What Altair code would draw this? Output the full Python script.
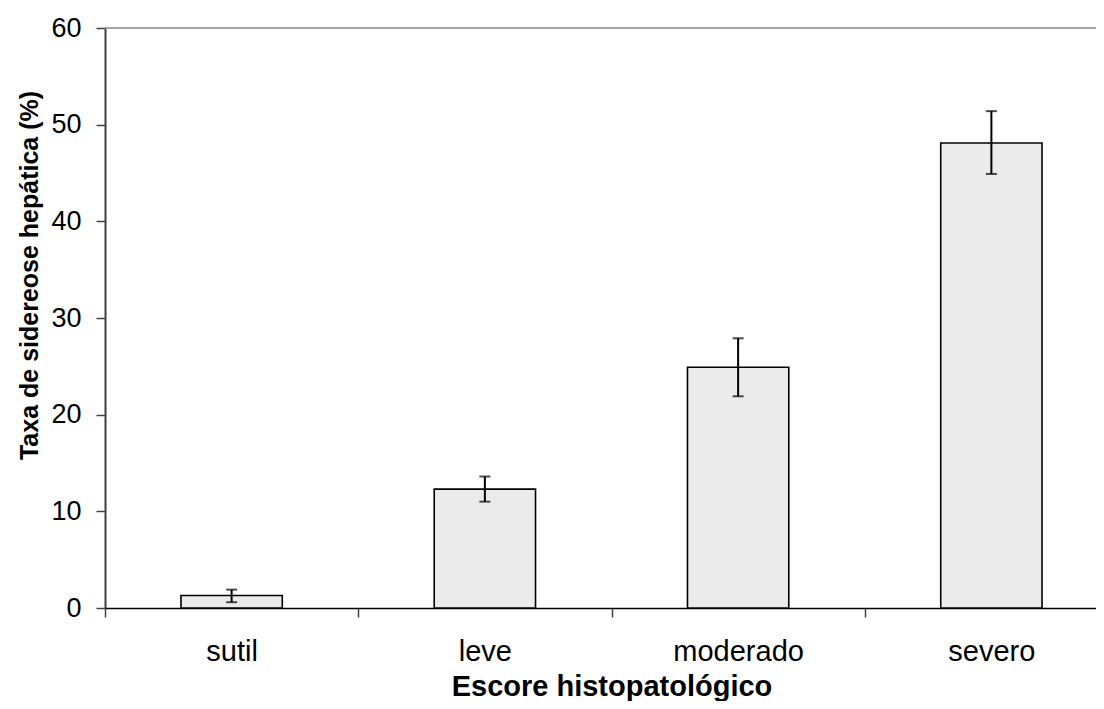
import altair as alt
import pandas as pd

categorias = ["sutil", "leve", "moderado", "severo"]
valores = [1.3, 12.3, 24.9, 48.1]
erro_inf = [0.6, 11.0, 21.9, 44.9]
erro_sup = [1.9, 13.6, 27.9, 51.4]
y_ticks = [0, 10, 20, 30, 40, 50, 60]

df = pd.DataFrame({"cat": categorias, "val": valores, "lo": erro_inf, "hi": erro_sup})

W = 991        # visible plot width (fits the page)
RANGE = 1013   # band range, like the reference (extends past the right edge)
H = 580
FONT = "Liberation Sans"

xscale = alt.Scale(domain=categorias, paddingInner=0, paddingOuter=0, range=[0, RANGE])
yscale = alt.Scale(domain=[0, 60], nice=False)

xaxis = alt.Axis(
    title="Escore histopatológico",
    tickBand="extent",
    labelAngle=0,
    labelFont=FONT, labelFontSize=29, labelColor="black", labelPadding=20,
    titleFont=FONT, titleFontSize=29, titleFontWeight="bold", titleColor="black",
    titleBaseline="alphabetic", titleY=87, titleX=RANGE / 2,
    domainColor="black", domainWidth=1.5, tickColor="#404040", tickSize=9, tickWidth=1.5,
)
yaxis = alt.Axis(
    title="Taxa de sidereose hepática (%)",
    values=y_ticks, grid=False,
    labelFont=FONT, labelFontSize=27, labelColor="black", labelPadding=15,
    titleFont=FONT, titleFontSize=25, titleFontWeight="bold", titleColor="black",
    titleAngle=270, titleBaseline="middle", titleAlign="center", titleX=-76, titleY=247,
    domainColor="#404040", domainWidth=2, tickColor="#404040", tickSize=9, tickWidth=1.5,
)

base = alt.Chart(df)

bars = base.mark_bar(
    width=alt.RelativeBandSize(0.4), fill="#ebebeb", stroke="black", strokeWidth=1.6
).encode(
    x=alt.X("cat:N", scale=xscale, axis=xaxis, sort=categorias),
    y=alt.Y("val:Q", scale=yscale, axis=yaxis),
)

err = base.mark_rule(color="black", strokeWidth=2).encode(
    x=alt.X("cat:N", sort=categorias), y="lo:Q", y2="hi:Q"
)
cap_hi = base.mark_tick(color="black", thickness=2, size=11).encode(
    x=alt.X("cat:N", sort=categorias), y="hi:Q"
)
cap_lo = base.mark_tick(color="black", thickness=2, size=11).encode(
    x=alt.X("cat:N", sort=categorias), y="lo:Q"
)

top_line = alt.Chart(pd.DataFrame({"v": [60]})).mark_rule(color="#8c8c8c", strokeWidth=1.5).encode(
    y=alt.Y("v:Q"), x=alt.value(0), x2=alt.value(RANGE)
)

chart = alt.layer(top_line, bars, err, cap_hi, cap_lo).properties(
    width=W, height=H,
    autosize=alt.AutoSizeParams(type="none"),
    padding={"left": 97, "top": 20, "right": 0, "bottom": 93},
).configure_view(stroke=None).configure(background="white")

chart.save("out.html", embed_options={"renderer": "svg", "actions": False})
